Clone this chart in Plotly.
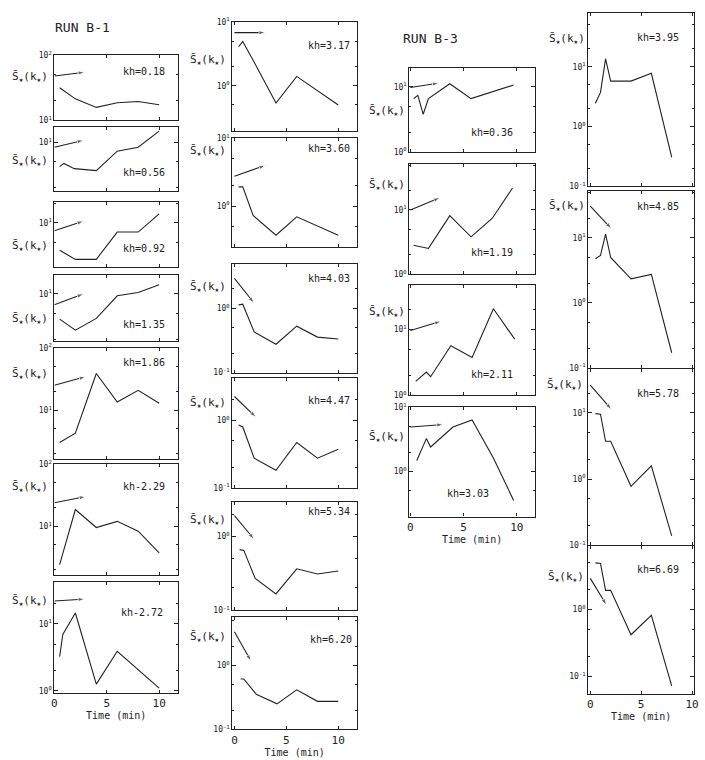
import plotly.graph_objects as go

W, H = 705, 760

# ---------------- DATA ----------------
# RUN B-1, left column
kh_B1 = ["kh=0.18", "kh=0.56", "kh=0.92", "kh=1.35", "kh=1.86", "kh-2.29", "kh-2.72"]
t_018 = [0.5, 2, 4, 6, 8, 10];            s_018 = [31.6, 21.4, 15.8, 18.6, 19.5, 17.4]
at_018 = [0, 2.9];                         as_018 = [47.9, 55.0]
t_056 = [0.5, 0.9, 1.9, 4, 6, 8, 10];      s_056 = [4.17, 4.68, 3.89, 3.63, 7.24, 8.32, 14.8]
at_056 = [0, 2.8];                         as_056 = [8.3, 10.7]
t_092 = [0.5, 2, 4, 6, 8, 10];             s_092 = [3.80, 2.75, 2.75, 7.24, 7.24, 13.8]
at_092 = [0, 2.8];                         as_092 = [7.6, 10.7]
t_135 = [0.5, 2, 4, 6, 8, 10];             s_135 = [4.07, 2.75, 4.17, 9.33, 10.5, 13.8]
at_135 = [0, 2.8];                         as_135 = [6.8, 10.0]
t_186 = [0.5, 2, 4, 6, 8, 10];             s_186 = [3.02, 4.27, 38.9, 13.5, 20.9, 12.9]
at_186 = [0, 3];                           as_186 = [25.1, 34.7]
t_229 = [0.5, 2, 4, 6, 8, 10];             s_229 = [2.40, 18.6, 9.55, 12.0, 8.32, 3.72]
at_229 = [0, 3];                           as_229 = [24.0, 30.2]
t_272 = [0.5, 0.8, 2, 4, 6, 10];           s_272 = [3.24, 6.92, 14.5, 1.26, 3.89, 1.10]
at_272 = [0, 2.9];                         as_272 = [21.9, 23.4]

# RUN B-1, second column
kh_B1b = ["kh=3.17", "kh=3.60", "kh=4.03", "kh=4.47", "kh=5.34", "kh=6.20"]
t_317 = [0.4, 0.8, 1.8, 4, 6, 10];         s_317 = [4.07, 4.90, 2.51, 0.537, 1.40, 0.501]
at_317 = [0, 3];                           as_317 = [6.76, 6.76]
t_360 = [0.4, 0.8, 1.8, 4, 6, 10];         s_360 = [1.91, 1.91, 0.724, 0.372, 0.692, 0.372]
at_360 = [0, 3];                           as_360 = [2.75, 3.98]
t_403 = [0.4, 0.8, 1.9, 4, 6, 8, 10];      s_403 = [1.12, 1.15, 0.427, 0.275, 0.525, 0.355, 0.331]
at_403 = [0, 1.9];                         as_403 = [2.88, 1.19]
t_447 = [0.4, 0.8, 1.9, 4, 6, 8, 10];      s_447 = [0.851, 0.794, 0.275, 0.182, 0.468, 0.275, 0.372]
at_447 = [0, 2.1];                         as_447 = [2.24, 1.10]
t_534 = [0.5, 0.9, 2, 4, 6, 8, 10];        s_534 = [0.661, 0.646, 0.269, 0.166, 0.363, 0.309, 0.339]
at_534 = [0, 1.9];                         as_534 = [1.91, 0.912]
t_620 = [0.6, 0.9, 2.1, 4.1, 6, 8, 10];    s_620 = [0.617, 0.617, 0.355, 0.251, 0.417, 0.275, 0.275]
at_620 = [0, 1.6];                         as_620 = [3.39, 1.17]

# RUN B-3, third column
kh_B3 = ["kh=0.36", "kh=1.19", "kh=2.11", "kh=3.03"]
t_036 = [0.3, 0.7, 1.2, 1.7, 3.7, 5.7, 9.7];  s_036 = [6.61, 7.41, 3.80, 6.61, 11.2, 6.61, 10.7]
at_036 = [0, 2.7];                            as_036 = [9.77, 11.5]
t_119 = [0.3, 1.7, 3.7, 5.7, 7.7, 9.6];       s_119 = [2.82, 2.51, 8.13, 3.80, 7.41, 21.9]
at_119 = [0, 2.8];                            as_119 = [10.0, 15.5]
t_211 = [0.5, 1.5, 1.9, 3.8, 5.8, 7.8, 9.8];  s_211 = [1.62, 2.24, 1.91, 5.62, 3.72, 20.4, 7.08]
at_211 = [0, 2.9];                            as_211 = [9.55, 13.2]
t_303 = [0.6, 1.5, 1.9, 4, 5.8, 7.8, 9.7];    s_303 = [1.48, 3.24, 2.40, 4.90, 6.31, 1.62, 0.355]
at_303 = [0, 3.1];                            as_303 = [4.90, 5.37]

# RUN B-3, fourth column
kh_B3b = ["kh=3.95", "kh=4.85", "kh=5.78", "kh=6.69"]
t_395 = [0.5, 1, 1.5, 2, 4, 6, 8];  s_395 = [2.45, 3.72, 13.5, 5.75, 5.75, 7.76, 0.309]
at_395 = [];                        as_395 = []
t_485 = [0.5, 1, 1.5, 2, 4, 6, 8];  s_485 = [4.79, 5.37, 11.5, 5.01, 2.34, 2.75, 0.170]
at_485 = [0, 2.1];                  as_485 = [30.9, 13.8]
t_578 = [0.5, 1, 1.5, 2, 4, 6, 8];  s_578 = [9.77, 9.55, 3.72, 3.72, 0.776, 1.58, 0.138]
at_578 = [0, 2.1];                  as_578 = [26.3, 11.2]
t_669 = [0.5, 1, 1.5, 2, 4, 6, 8];  s_669 = [4.90, 4.79, 1.91, 1.91, 0.417, 0.813, 0.0724]
at_669 = [0, 1.6];                  as_669 = [2.88, 1.15]

x_ticks = [0, 5, 10]
y_decades = [0.01, 0.1, 1, 10, 100]
y_decade_text = ["10<sup>-2</sup>", "10<sup>-1</sup>", "10<sup>0</sup>", "10<sup>1</sup>", "10<sup>2</sup>"]

# ---------------- LAYOUT SPEC (pixel boxes, log ranges, label spots) ----------------
panels = [
    (t_018, s_018, at_018, as_018, kh_B1[0], (52, 177, 50, 116), (0, 11.8), (1, 2), (143, 66), (27, 72), False),
    (t_056, s_056, at_056, as_056, kh_B1[1], (52, 177, 123, 188), (0, 11.8), (0.24, 1.23), (143, 169), (27, 157), False),
    (t_092, s_092, at_092, as_092, kh_B1[2], (52, 177, 199, 265), (0, 11.8), (0.32, 1.32), (143, 246), (27, 244), False),
    (t_135, s_135, at_135, as_135, kh_B1[3], (52, 177, 273, 340), (0, 11.8), (0.27, 1.29), (143, 323), (27, 318), False),
    (t_186, s_186, at_186, as_186, kh_B1[4], (52, 177, 347, 460), (0, 11.8), (0.21, 2), (143, 362), (27, 373), False),
    (t_229, s_229, at_229, as_229, kh_B1[5], (52, 177, 465, 577), (0, 11.8), (0.22, 2), (143, 488), (27, 488), False),
    (t_272, s_272, at_272, as_272, kh_B1[6], (52, 177, 584, 697), (0, 11.8), (-0.03, 1.63), (141, 615), (27, 604), True),

    (t_317, s_317, at_317, as_317, kh_B1b[0], (232, 358, 16, 127), (-0.2, 11.8), (-0.71, 1), (330, 40), (207, 55), False),
    (t_360, s_360, at_360, as_360, kh_B1b[1], (232, 358, 134, 245), (-0.2, 11.8), (-0.61, 1), (330, 145), (207, 147), False),
    (t_403, s_403, at_403, as_403, kh_B1b[2], (232, 358, 262, 372), (-0.2, 11.8), (-1, 0.68), (330, 277), (207, 285), False),
    (t_447, s_447, at_447, as_447, kh_B1b[3], (232, 358, 377, 489), (-0.2, 11.8), (-1, 0.63), (330, 400), (207, 403), False),
    (t_534, s_534, at_534, as_534, kh_B1b[4], (232, 358, 503, 613), (-0.2, 11.8), (-1, 0.47), (330, 513), (207, 522), False),
    (t_620, s_620, at_620, as_620, kh_B1b[5], (232, 358, 620, 734), (-0.2, 11.8), (-1, 0.76), (332, 643), (207, 640), True),

    (t_036, s_036, at_036, as_036, kh_B3[0], (411, 538, 63, 148), (-0.1, 11.7), (0, 1.29), (495, 128), (388, 107), False),
    (t_119, s_119, at_119, as_119, kh_B3[1], (411, 538, 160, 272), (-0.1, 11.7), (0, 1.72), (495, 250), (388, 182), False),
    (t_211, s_211, at_211, as_211, kh_B3[2], (411, 538, 283, 395), (-0.1, 11.7), (0, 1.67), (495, 374), (388, 310), False),
    (t_303, s_303, at_303, as_303, kh_B3[3], (411, 538, 407, 518), (-0.1, 11.7), (-0.7, 1), (470, 495), (388, 437), True),

    (t_395, s_395, at_395, as_395, kh_B3b[0], (592, 699, 7, 183), (-0.2, 10.2), (-1, 1.9), (663, 32), (570, 33), False),
    (t_485, s_485, at_485, as_485, kh_B3b[1], (592, 699, 188, 367), (-0.2, 10.2), (-1, 1.72), (663, 203), (570, 203), False),
    (t_578, s_578, at_578, as_578, kh_B3b[2], (592, 699, 368, 547), (-0.2, 10.2), (-1, 1.67), (663, 393), (568, 385), False),
    (t_669, s_669, at_669, as_669, kh_B3b[3], (592, 699, 548, 698), (-0.2, 10.2), (-1.26, 0.94), (663, 572), (569, 579), True),
]

FONT = "DejaVu Sans Mono"
INK = "#222222"

fig = go.Figure()
annotations = []
layout_axes = {}

for i, (t, s, at, as_, kh, box, xr, yr, khpos, spos, showx) in enumerate(panels, start=1):
    x0, x1, y0, y1 = box
    xa = "x" if i == 1 else f"x{i}"
    ya = "y" if i == 1 else f"y{i}"
    xkey = "xaxis" if i == 1 else f"xaxis{i}"
    ykey = "yaxis" if i == 1 else f"yaxis{i}"

    fig.add_trace(go.Scatter(x=t, y=s, mode="lines", xaxis=xa, yaxis=ya,
                             line=dict(color=INK, width=1.1), showlegend=False,
                             hoverinfo="x+y"))
    if len(at) > 0:
        fig.add_trace(go.Scatter(x=at, y=as_, mode="lines+markers", xaxis=xa, yaxis=ya,
                                 line=dict(color=INK, width=1.1),
                                 marker=dict(symbol="arrow", size=[0, 7], angleref="previous",
                                             color=INK),
                                 showlegend=False, hoverinfo="skip"))

    layout_axes[xkey] = dict(
        domain=[x0 / W, x1 / W], range=list(xr), anchor=ya,
        showline=True, linecolor=INK, linewidth=1.1, mirror="ticks",
        ticks="inside", ticklen=3, tickcolor=INK, tickvals=x_ticks,
        showticklabels=showx, showgrid=False, zeroline=False, fixedrange=True,
        ticklabeloverflow="allow",
        tickfont=dict(family=FONT, size=11, color=INK),
    )
    if showx:
        layout_axes[xkey]["title"] = dict(text="Time (min)", standoff=0,
                                          font=dict(family=FONT, size=10, color=INK))
    layout_axes[ykey] = dict(
        type="log", domain=[1 - y1 / H, 1 - y0 / H], range=list(yr), anchor=xa,
        showline=True, linecolor=INK, linewidth=1.1, mirror="ticks",
        ticks="inside", ticklen=4, tickcolor=INK,
        tickvals=y_decades, ticktext=y_decade_text,
        minor=dict(ticks="inside", ticklen=2, tickcolor=INK,
                   tickvals=[0.02, 0.05, 0.2, 0.5, 2, 5, 20, 50]),
        showgrid=False, zeroline=False, fixedrange=True,
        tickfont=dict(family=FONT, size=8, color=INK),
    )

    annotations.append(dict(text=kh, x=khpos[0] / W, y=1 - khpos[1] / H, xref="paper", yref="paper",
                            showarrow=False, xanchor="center", yanchor="middle",
                            font=dict(family=FONT, size=10, color=INK)))
    annotations.append(dict(text="S\u0304<sub>\u2605</sub>(k<sub>\u2605</sub>)",
                            x=spos[0] / W, y=1 - spos[1] / H, xref="paper", yref="paper",
                            showarrow=False, xanchor="center", yanchor="middle",
                            font=dict(family=FONT, size=11, color=INK)))

annotations.append(dict(text="RUN B-1", x=80 / W, y=1 - 22 / H, xref="paper", yref="paper",
                        showarrow=False, xanchor="center", yanchor="middle",
                        font=dict(family=FONT, size=13, color=INK)))
annotations.append(dict(text="RUN B-3", x=432 / W, y=1 - 33 / H, xref="paper", yref="paper",
                        showarrow=False, xanchor="center", yanchor="middle",
                        font=dict(family=FONT, size=13, color=INK)))

fig.update_layout(
    width=W, height=H, margin=dict(l=0, r=0, t=0, b=0),
    paper_bgcolor="white", plot_bgcolor="white",
    annotations=annotations, showlegend=False,
    **layout_axes,
)

fig.write_html("out.html")
